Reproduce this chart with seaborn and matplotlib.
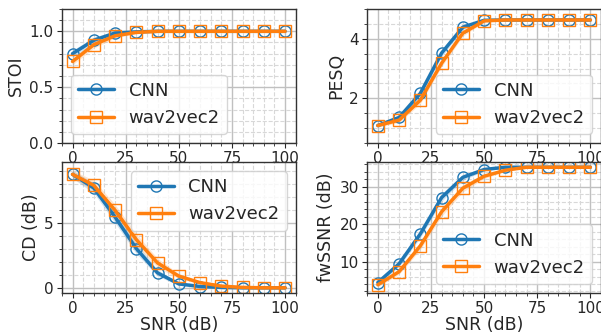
import numpy as np
import pandas as pd
import matplotlib
matplotlib.use("Agg")
import matplotlib.pyplot as plt
import seaborn as sns
from matplotlib.ticker import AutoMinorLocator

# DATA
snr = [0, 10, 20, 30, 40, 50, 60, 70, 80, 90, 100]
models_ = ["CNN", "wav2vec2"]

stoi = {
    "CNN":      [0.80, 0.92, 0.985, 0.995, 1.0, 1.0, 1.0, 1.0, 1.0, 1.0, 1.0],
    "wav2vec2": [0.73, 0.88, 0.96, 0.99, 1.0, 1.0, 1.0, 1.0, 1.0, 1.0, 1.0],
}
stoi_sd = {
    "CNN":      [0.03, 0.03, 0.015, 0.005, 0.002, 0, 0, 0, 0, 0, 0],
    "wav2vec2": [0.03, 0.03, 0.02, 0.008, 0.003, 0, 0, 0, 0, 0, 0],
}
pesq = {
    "CNN":      [1.09, 1.36, 2.17, 3.52, 4.39, 4.62, 4.63, 4.63, 4.63, 4.63, 4.63],
    "wav2vec2": [1.09, 1.27, 1.94, 3.18, 4.19, 4.60, 4.63, 4.63, 4.63, 4.63, 4.63],
}
pesq_sd = {
    "CNN":      [0.05, 0.08, 0.12, 0.12, 0.08, 0.03, 0.01, 0, 0, 0, 0],
    "wav2vec2": [0.05, 0.08, 0.12, 0.12, 0.1, 0.04, 0.01, 0, 0, 0, 0],
}
cd = {
    "CNN":      [8.75, 7.7, 5.46, 3.03, 1.15, 0.3, 0.1, 0.03, 0.0, 0.0, 0.0],
    "wav2vec2": [8.75, 7.9, 5.98, 3.72, 1.92, 0.9, 0.4, 0.13, 0.03, 0.0, 0.0],
}
cd_sd = {
    "CNN":      [0.3, 0.4, 0.45, 0.4, 0.25, 0.1, 0.05, 0.02, 0, 0, 0],
    "wav2vec2": [0.3, 0.4, 0.45, 0.45, 0.35, 0.2, 0.1, 0.04, 0, 0, 0],
}
fwssnr = {
    "CNN":      [4.4, 9.4, 17.4, 27.1, 32.5, 34.6, 35.2, 35.2, 35.2, 35.2, 35.2],
    "wav2vec2": [3.8, 7.3, 14.2, 23.3, 29.6, 32.8, 34.4, 35.2, 35.2, 35.2, 35.2],
}
fwssnr_sd = {
    "CNN":      [0.5, 0.7, 1.0, 1.0, 0.8, 0.4, 0.2, 0.1, 0, 0, 0],
    "wav2vec2": [0.5, 0.7, 1.0, 1.2, 1.0, 0.6, 0.3, 0.1, 0, 0, 0],
}

panels = [
    ("STOI", stoi, stoi_sd, (0, 1.2), [0.0, 0.5, 1.0], "lower left", False),
    ("PESQ", pesq, pesq_sd, (0.5, 5.0), [2, 4], "lower right", False),
    ("CD (dB)", cd, cd_sd, (-0.4, 9.7), [0, 5], "upper right", True),
    ("fwSSNR (dB)", fwssnr, fwssnr_sd, (1.6, 36.6), [10, 20, 30], "lower right", True),
]

colors = {"CNN": "#1f77b4", "wav2vec2": "#ff7f0e"}
markers = {"CNN": "o", "wav2vec2": "s"}

sns.set_style("white")
plt.rcParams["font.family"] = ["DejaVu Sans"]

fig = plt.figure(figsize=(6.01, 3.32), dpi=100)
# axes boxes in figure fractions: left, bottom, width, height
boxes = [
    [0.103, 0.569, 0.389, 0.404],
    [0.611, 0.569, 0.389, 0.404],
    [0.103, 0.1175, 0.389, 0.3945],
    [0.611, 0.1175, 0.389, 0.3945],
]

for box, (ylabel, vals, sds, ylim, yticks, loc, bottom) in zip(boxes, panels):
    ax = fig.add_axes(box)
    rows = []
    for m in models_:
        for s, v in zip(snr, vals[m]):
            rows.append({"SNR": s, "val": v, "model": m})
    df = pd.DataFrame(rows)
    for m in models_:
        v = np.array(vals[m])
        sd = np.array(sds[m])
        ax.fill_between(snr, v - sd, v + sd, color=colors[m], alpha=0.2, lw=0)
    for m in models_:
        sns.lineplot(data=df[df["model"] == m], x="SNR", y="val", ax=ax,
                     color=colors[m], marker=markers[m], markersize=8,
                     markerfacecolor="none", markeredgecolor=colors[m],
                     markeredgewidth=1.0, linewidth=2.5, label=m)
    ax.set_xlim(-5, 105)
    ax.set_ylim(*ylim)
    ax.set_xticks([0, 25, 50, 75, 100])
    ax.set_yticks(yticks)
    ax.xaxis.set_minor_locator(AutoMinorLocator())
    ax.yaxis.set_minor_locator(AutoMinorLocator())
    ax.grid(which="major", color="#c0c0c0", linewidth=1.0, linestyle="-")
    ax.grid(which="minor", color="#d8d8d8", linewidth=0.8, linestyle="--")
    ax.tick_params(which="both", direction="out", labelsize=11, bottom=True, left=True)
    ax.tick_params(which="major", length=3.5, pad=2.5)
    ax.tick_params(which="minor", length=2)
    for sp in ax.spines.values():
        sp.set_color("#333333")
        sp.set_linewidth(1.0)
    ax.set_ylabel(ylabel, fontsize=12.5, labelpad=3)
    ax.set_xlabel("SNR (dB)" if bottom else "", fontsize=12.5, labelpad=0)
    ax.legend(loc=loc, fontsize=13, handlelength=2.0)

fig.savefig("out.png", dpi=100)
